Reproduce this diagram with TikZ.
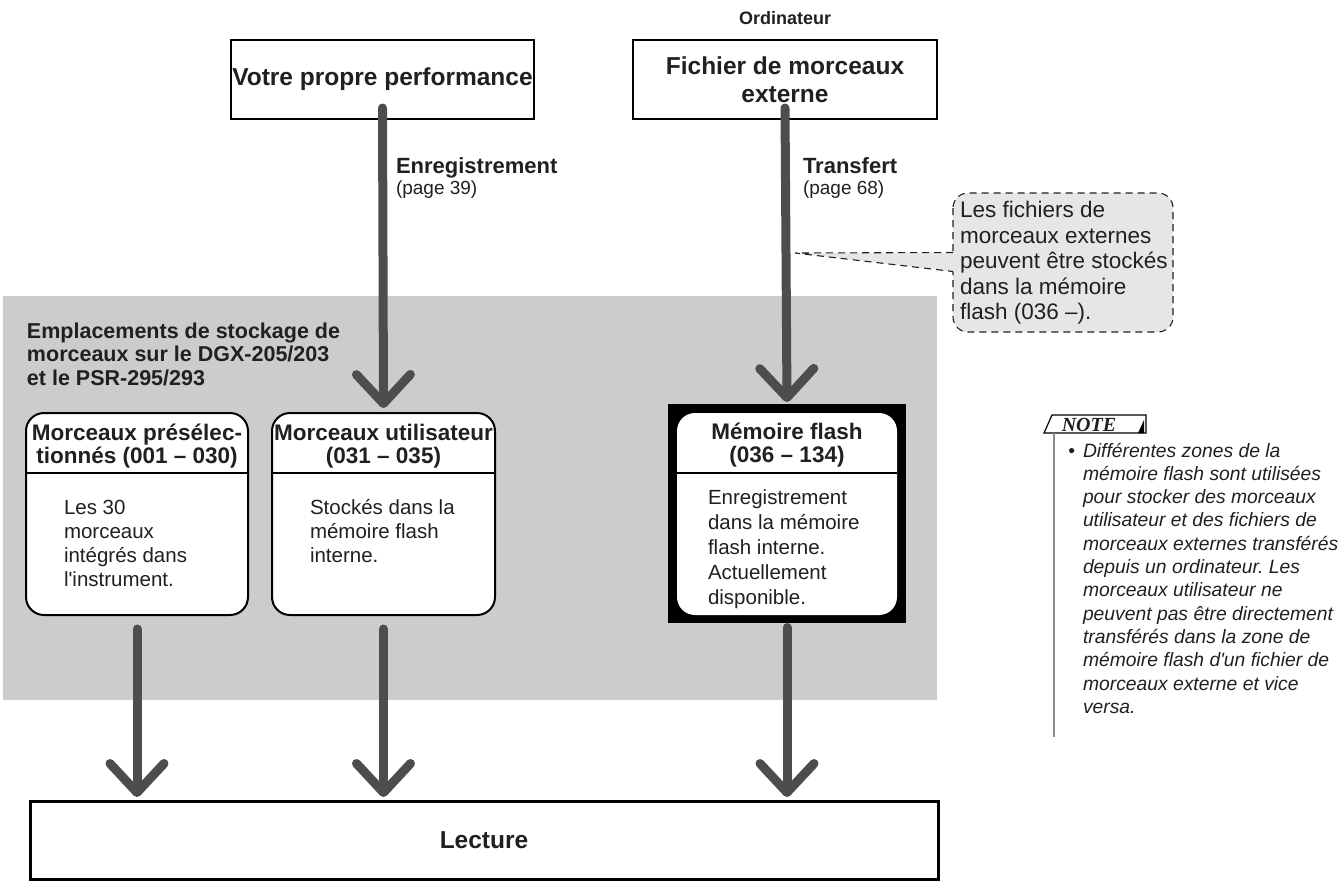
\documentclass[tikz,border=0pt]{standalone}
\usepackage{fontspec}
\setmainfont{Liberation Sans}
\newfontfamily\notefont{Liberation Serif}
\usetikzlibrary{arrows.meta,calc}
\definecolor{arr}{HTML}{4D4D4D}
\definecolor{zone}{HTML}{CCCCCC}
\definecolor{callfill}{HTML}{E6E6E6}
\definecolor{ink}{HTML}{231F20}
\definecolor{noteline}{HTML}{8C8C8C}
\newcommand{\fsz}[2]{\fontsize{#1}{#2}\selectfont}
\newcommand{\fl}{\rule{0pt}{20pt}}
\frenchspacing
\begin{document}
\begin{tikzpicture}[x=1pt,y=-1pt,
  txt/.style={text=ink, inner sep=0pt, outer sep=0pt},
  bigbox/.style={draw=black, line width=2.5pt, fill=white, inner sep=0pt, outer sep=0pt, text=ink},
  ibox/.style={draw=black, line width=2pt, rounded corners=18pt, fill=white, inner sep=0pt, outer sep=0pt},
  ttl/.style={txt, font=\bfseries\fsz{22.5}{23}, align=center, anchor=north},
  body/.style={txt, font=\fsz{20.5}{24}, align=left, anchor=north west},
  lbl/.style={txt, font=\bfseries\fsz{22}{24}, anchor=base west},
  pg/.style={txt, font=\fsz{19}{21}, anchor=base west},
  flow/.style={draw=arr, line width=9pt, line cap=round, -{Straight Barb[round,length=29pt,width=54pt]}},
  dsh/.style={draw=ink, line width=1.1pt, dash pattern=on 7pt off 5pt}
]
\useasboundingbox (0,0) rectangle (1340,887);

% storage zone
\fill[zone] (3,296) rectangle (937,700);
\node[txt, font=\bfseries\fsz{21.5}{23.5}, align=left, anchor=north west] (zonetitle) at (27,318)
  {\fl Emplacements de stockage de\\morceaux sur le DGX-205/203\\et le PSR-295/293};

% top boxes
\node[txt, font=\bfseries\fsz{18}{20}] (ordi) at (785,18) {Ordinateur};
\node[bigbox, minimum width=303, minimum height=79, font=\bfseries\fsz{24.5}{28}] (votre) at (382.5,79.5) {\raisebox{-2pt}{Votre propre performance}};
\node[bigbox, minimum width=304, minimum height=79, font=\bfseries\fsz{24.5}{28}, align=center] (fichier) at (785,79.5) {Fichier de morceaux\\externe};

% inner boxes
\node[ibox, minimum width=222, minimum height=202] (presel) at (137,514) {};
\node[ibox, minimum width=223, minimum height=202] (user) at (383.5,514) {};
\node[fill=black, minimum width=238, minimum height=219, inner sep=0pt, outer sep=0pt] (frame) at (787,513.5) {};
\node[fill=white, rounded corners=18pt, minimum width=220, minimum height=202, inner sep=0pt, outer sep=0pt] (flash) at (787,514) {};

\draw[line width=1.5pt] ([yshift=-60pt]presel.north west) -- ([yshift=-60pt]presel.north east);
\draw[line width=1.5pt] ([yshift=-60pt]user.north west) -- ([yshift=-60pt]user.north east);
\draw[line width=1.2pt] ([yshift=-60pt]flash.north west) -- ([yshift=-60pt]flash.north east);

\node[ttl] (tpresel) at (137,420.5) {\fl Morceaux présélec-\\tionnés (001 – 030)};
\node[ttl] (tuser) at (383.5,420.5) {\fl Morceaux utilisateur\\(031 – 035)};
\node[ttl] (tflash) at (787,419.5) {\fl Mémoire flash\\(036 – 134)};

\node[body] (bpresel) at (64,494) {\fl Les 30\\morceaux\\intégrés dans\\l\textquotesingle instrument.};
\node[body] (buser) at (310,494) {\fl Stockés dans la\\mémoire flash\\interne.};
\node[body, font=\fsz{20.5}{25}] (bflash) at (708,484) {\fl Enregistrement\\dans la mémoire\\flash interne.\\Actuellement\\disponible.};

% playback box
\node[bigbox, line width=3pt, minimum width=908, minimum height=78, font=\bfseries\fsz{24.5}{28}] (lecture) at (484,840) {Lecture};

% flows
\draw[flow] ([yshift=11pt]votre.south) -- ([yshift=5pt]user.north);
\draw[flow] ([yshift=11pt]fichier.south) -- ([yshift=2pt]frame.north);
\draw[flow] ([yshift=-14pt]presel.south) -- ([yshift=4pt]lecture.north -| presel.south);
\draw[flow] ([yshift=-14pt]user.south) -- ([yshift=4pt]lecture.north -| user.south);
\draw[flow] ([yshift=-4.5pt]frame.south) -- ([yshift=4pt]lecture.north -| frame.south);

% flow labels
\node[lbl] (enr) at (396,173) {Enregistrement};
\node[pg] (enrpg) at (396,194) {(page 39)};
\node[lbl] (trf) at (803,173) {Transfert};
\node[pg] (trfpg) at (803,194) {(page 68)};

% callout
\node[draw=none, fill=callfill, rounded corners=15pt, minimum width=220, minimum height=139, inner sep=0pt, outer sep=0pt] (callout) at (1063,262.5) {};
\draw[dsh, rounded corners=15pt] (callout.north west) rectangle (callout.south east);
\coordinate (tip) at (795,253);
\fill[callfill] ([yshift=10pt]callout.west) -- (tip) -- ([yshift=-9pt]callout.west) -- ([yshift=-9pt,xshift=3pt]callout.west) -- ([yshift=10pt,xshift=3pt]callout.west) -- cycle;
\draw[dsh] ([yshift=10pt]callout.west) -- (tip) -- ([yshift=-9pt]callout.west);
\node[txt, font=\fsz{22.5}{25.5}, align=left, anchor=north west] (calltext) at (960,197.5)
  {\fl Les fichiers de\\morceaux externes\\peuvent être stockés\\dans la mémoire\\flash (036 –).};

% note
\draw[black, line width=1.2pt] (1052,415) -- (1146,415) -- (1146,433) -- (1044,433) -- cycle;
\fill[black] (1138,433) -- (1144,433) -- (1144,420) -- cycle;
\node[txt, font=\notefont\bfseries\itshape\fsz{20}{22}] (notehead) at (1089,424.5) {NOTE};
\draw[noteline, line width=1.5pt] (1054,433) -- (1054,737);
\node[txt, font=\itshape\fsz{19.3}{23.3}, align=left, anchor=north west] (notetext) at (1083,437)
  {\fl\llap{\upshape\textbullet\hspace{8pt}}Différentes zones de la\\mémoire flash sont utilisées\\pour stocker des morceaux\\utilisateur et des fichiers de\\morceaux externes transférés\\depuis un ordinateur. Les\\morceaux utilisateur ne\\peuvent pas être directement\\transférés dans la zone de\\mémoire flash d\textquotesingle un fichier de\\morceaux externe et vice\\versa.};
\end{tikzpicture}
\end{document}
